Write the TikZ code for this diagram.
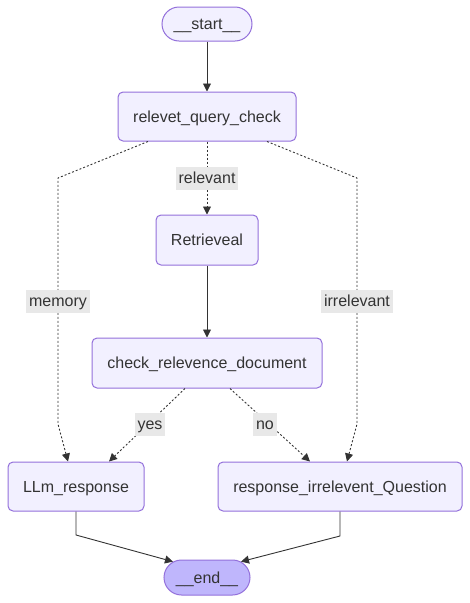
\documentclass[tikz,border=0pt]{standalone}
\usepackage{fontspec}
\setmainfont{Liberation Sans}
\usetikzlibrary{arrows.meta,shapes.misc}
\definecolor{nodefill}{HTML}{F2F0FF}
\definecolor{nodestroke}{HTML}{9370DB}
\definecolor{endfill}{HTML}{BFB6FC}
\definecolor{linec}{HTML}{333333}
\definecolor{lblbg}{HTML}{E8E8E8}
\tikzset{
  box/.style={draw=nodestroke, fill=nodefill, line width=1pt, rounded corners=5pt,
    text=linec, font=\fontsize{16}{19}\selectfont, inner sep=0pt, anchor=center,
    text height=13.5pt, text depth=2.5pt},
  term/.style={draw=nodestroke, line width=1pt, rounded rectangle,
    text=linec, font=\fontsize{16}{19}\selectfont, inner sep=0pt, anchor=center,
    text height=13.5pt, text depth=2.5pt},
  solidedge/.style={draw=linec, line width=0.9pt, -{Triangle[length=8pt,width=8pt]}},
  dotedge/.style={draw=linec, line width=0.9pt, dash pattern=on 2pt off 2pt, -{Triangle[length=8pt,width=8pt]}},
  lbl/.style={fill=lblbg, text=linec, font=\fontsize{16}{19}\selectfont, inner xsep=3pt, inner ysep=0pt,
    minimum height=23pt, anchor=center, text height=13.5pt, text depth=2.5pt},
}
\begin{document}
\begin{tikzpicture}[x=1pt,y=-1pt]
\useasboundingbox (0,0) rectangle (470,603);
\node[term, fill=nodefill, minimum width=90pt, minimum height=34pt] (start) at (207,24) {\_\_start\_\_};
\node[box, minimum width=178pt, minimum height=49pt] (rqc) at (207,116.5) {relevet\_query\_check};
\node[box, minimum width=102pt, minimum height=50pt] (ret) at (207,240) {Retrieveal};
\node[box, minimum width=230pt, minimum height=50pt] (crd) at (207,363) {check\_relevence\_document};
\node[box, minimum width=136pt, minimum height=49pt] (llm) at (76,486.5) {LLm\_response};
\node[box, minimum width=244pt, minimum height=49pt] (riq) at (340,486.5) {response\_irrelevent\_Question};
\node[term, fill=endfill, minimum width=86pt, minimum height=35pt] (end) at (207,577.5) {\_\_end\_\_};

\coordinate (m1) at (58,178);
\coordinate (m2) at (58,424);
\coordinate (i1) at (357,178);
\coordinate (i2) at (357,424);
\coordinate (l1) at (76,535);
\coordinate (r1) at (340,536);

\draw[solidedge] (start.south) -- (rqc.north);
\draw[dotedge] (rqc.south) -- (ret.north);
\draw[dotedge] (rqc.south -| 148,0) -- (m1) -- (m2) -- (llm.north -| 68,0);
\draw[dotedge] (rqc.south -| 267,0) -- (i1) -- (i2) -- (riq.north -| 347,0);
\draw[solidedge] (ret.south) -- (crd.north);
\draw[dotedge] (crd.south -| 185,0) -- (llm.north -| 109,0);
\draw[dotedge] (crd.south -| 230,0) -- (riq.north -| 310,0);
\draw[solidedge] (llm.south) -- (l1) -- (end.155);
\draw[solidedge] (riq.south) -- (r1) -- (end.25);

\node[lbl] (lrel) at (207,178) {relevant};
\node[lbl] (lmem) at (58,301) {memory};
\node[lbl] (lirr) at (357,301) {irrelevant};
\node[lbl] (lyes) at (150,424) {yes};
\node[lbl] (lno) at (265,424) {no};
\end{tikzpicture}
\end{document}
